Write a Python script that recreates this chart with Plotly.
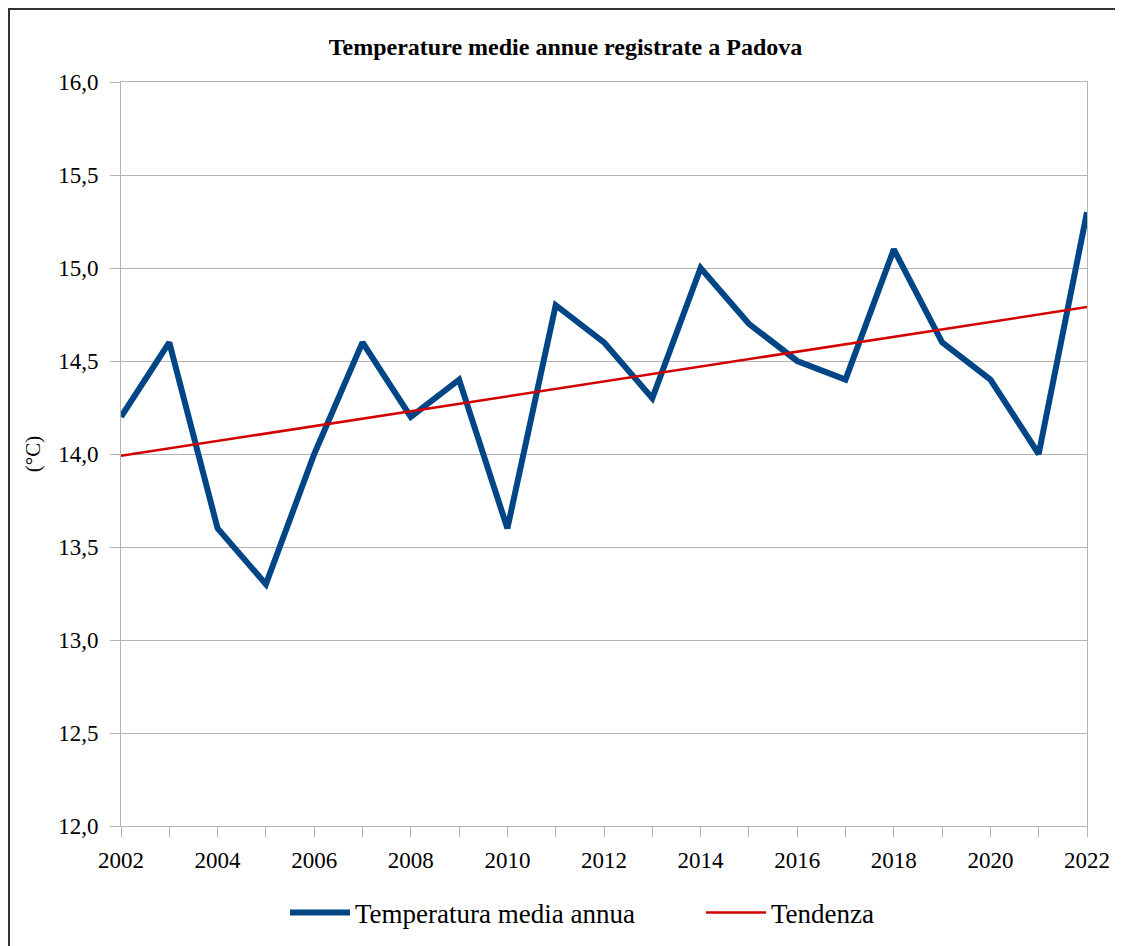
import plotly.graph_objects as go

years = list(range(2002, 2023))
temperature = [14.2, 14.6, 13.6, 13.3, 14.0, 14.6, 14.2, 14.4, 13.6, 14.8, 14.6,
               14.3, 15.0, 14.7, 14.5, 14.4, 15.1, 14.6, 14.4, 14.0, 15.3]
trend_years = [2002, 2022]
trend_values = [13.99, 14.79]
x_tick_labels = [str(y) if y % 2 == 0 else "" for y in years]

FONT = "Liberation Serif, Times New Roman, serif"

fig = go.Figure()
fig.add_trace(go.Scatter(x=years, y=temperature, mode="lines",
                         name="Temperatura media annua",
                         line=dict(color="#004586", width=6)))
fig.add_trace(go.Scatter(x=trend_years, y=trend_values, mode="lines",
                         name="Tendenza",
                         line=dict(color="#d40000", width=2.5)))

PLOT_W = 966
PLOT_H = 744
fig.update_layout(
    width=1115, height=938,
    margin=dict(l=113, r=36, t=74, b=120, autoexpand=False),
    paper_bgcolor="white", plot_bgcolor="white",
    separators=",.",
    font=dict(family=FONT, color="black", size=22),
    title=dict(text="<b>Temperature medie annue registrate a Padova</b>",
               x=0.5, xanchor="center", y=1 - 39 / 938, yanchor="middle",
               font=dict(family=FONT, size=24, color="black")),
    showlegend=True,
    legend=dict(orientation="h", x=(285 - 121) / PLOT_W, xanchor="left",
                y=-0.117, yanchor="middle",
                font=dict(family=FONT, size=27, color="black"),
                itemwidth=60, tracegroupgap=0, entrywidthmode="pixels", entrywidth=341),
    shapes=[dict(type="rect", xref="paper", yref="paper",
                 x0=-112 / PLOT_W, x1=1.2, y0=-0.3, y1=(PLOT_H + 73) / PLOT_H,
                 line=dict(color="#333333", width=2), fillcolor="rgba(0,0,0,0)")],
)

fig.update_xaxes(range=[2002, 2022], tickvals=years, ticktext=x_tick_labels,
                 ticks="outside", ticklen=10, tickcolor="#b3b3b3", tickwidth=1,
                 ticklabelstandoff=3,
                 showgrid=False, zeroline=False,
                 showline=True, linecolor="#b3b3b3", linewidth=1, mirror=True,
                 tickfont=dict(family=FONT, size=23, color="black"))
fig.update_yaxes(range=[12, 16], dtick=0.5, tick0=12, tickformat=".1f",
                 ticks="outside", ticklen=10, tickcolor="#b3b3b3", tickwidth=1,
                 ticklabelstandoff=7,
                 showgrid=True, gridcolor="#b3b3b3", gridwidth=1, zeroline=False,
                 showline=True, linecolor="#b3b3b3", linewidth=1, mirror=True,
                 title=dict(text="(°C)", font=dict(family=FONT, size=21, color="black"),
                            standoff=11),
                 tickfont=dict(family=FONT, size=23, color="black"))

fig.write_html("out.html")
